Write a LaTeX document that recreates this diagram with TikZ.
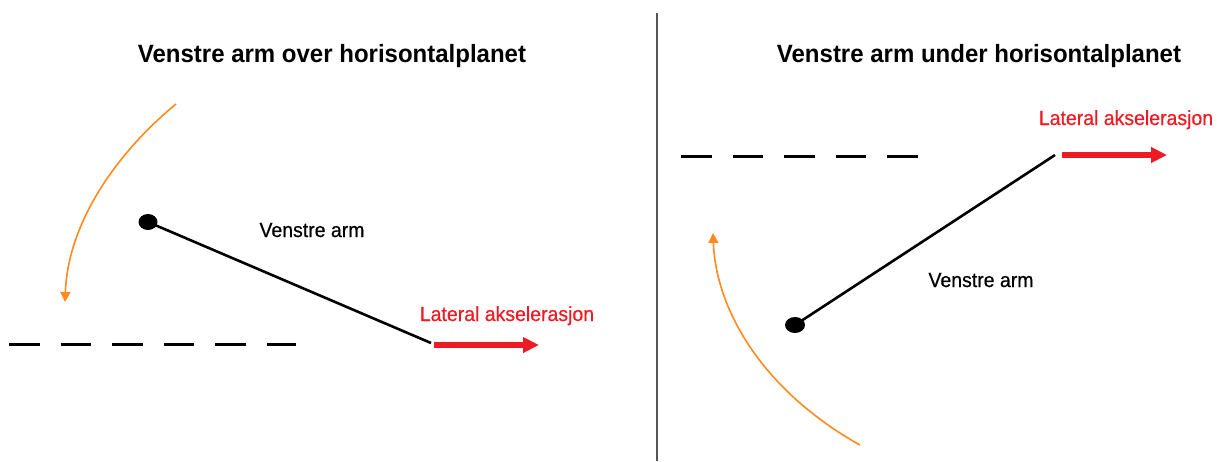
\documentclass[tikz,border=0pt]{standalone}
\usepackage{fontspec}
\setmainfont{Liberation Sans}
\newfontfamily\titlefont[FakeStretch=0.96]{Liberation Sans Bold}
\newfontfamily\labelfont[FakeStretch=0.95,FakeBold=0.6]{Liberation Sans}
\usetikzlibrary{arrows.meta,shapes.geometric}
\definecolor{accred}{HTML}{ED1C24}
\definecolor{arcorange}{HTML}{FF8A1E}
\definecolor{divgray}{HTML}{555555}
\tikzset{
  title/.style={anchor=base, inner sep=0pt, font=\titlefont\fontsize{25}{30}\selectfont},
  armlabel/.style={anchor=base, inner sep=0pt, font=\labelfont\fontsize{20.5}{24}\selectfont},
  acclabel/.style={anchor=base, inner sep=0pt, text=accred, font=\labelfont\fontsize{20.5}{24}\selectfont},
  pivot/.style={ellipse, fill=black, minimum width=19pt, minimum height=16pt, inner sep=0pt},
  arm/.style={line width=2.6pt, black},
  horizon/.style={line width=3pt, black, dash pattern=on 30.5pt off 21pt},
  accarrow/.style={line width=5.5pt, accred, -{Triangle[length=16pt,width=15pt]}},
  motion/.style={line width=1.6pt, arcorange, -{Triangle[length=10pt,width=10pt]}},
}
\begin{document}
\begin{tikzpicture}[x=1pt,y=-1pt]
\useasboundingbox[fill=white] (0,0) rectangle (1217,461);
% divider
\coordinate (divtop) at (657,13);
\coordinate (divbot) at (657,461);
\draw[divgray, line width=2pt] (divtop) -- (divbot);

% ---------- left panel ----------
\node[title] (t1) at (332,62) {Venstre arm over horisontalplanet};
\coordinate (h1a) at (9,344);
\coordinate (h1b) at (296,344);
\draw[horizon] (h1a) -- (h1b);
\node[pivot] (p1) at (148,222) {};
\coordinate (e1) at (431,343);
\draw[arm] (p1.center) -- (e1);
\node[armlabel] (l1) at (312,237) {Venstre arm};
\coordinate (a1s) at (434,345);
\coordinate (a1e) at (539,345);
\draw[accarrow] (a1s) -- (a1e);
\node[acclabel] (c1) at (507,321) {Lateral akselerasjon};
\coordinate (m1s) at (176,104);
\coordinate (m1e) at (65,302);
\draw[motion] (m1s) .. controls (120,150) and (68,220) .. (m1e);

% ---------- right panel ----------
\node[title] (t2) at (979,62) {Venstre arm under horisontalplanet};
\coordinate (h2a) at (681,156);
\coordinate (h2b) at (921,156);
\draw[horizon] (h2a) -- (h2b);
\node[pivot, minimum width=20pt] (p2) at (795,325) {};
\coordinate (e2) at (1055,155);
\draw[arm] (p2.center) -- (e2);
\node[armlabel] (l2) at (981,287) {Venstre arm};
\coordinate (a2s) at (1062,155);
\coordinate (a2e) at (1167,155);
\draw[accarrow] (a2s) -- (a2e);
\node[acclabel] (c2) at (1126,125) {Lateral akselerasjon};
\coordinate (m2s) at (860,445);
\coordinate (m2e) at (713,233);
\draw[motion] (m2s) .. controls (765,392) and (716,312) .. (m2e);
\end{tikzpicture}
\end{document}
